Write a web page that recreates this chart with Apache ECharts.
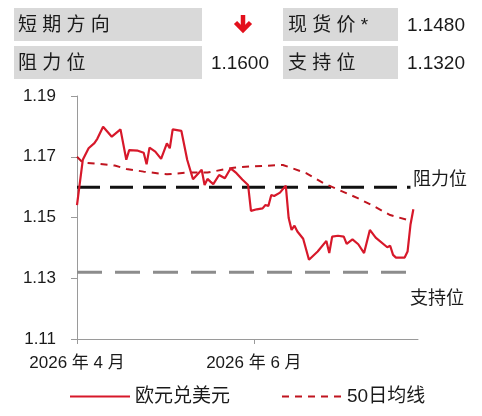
<!DOCTYPE html>
<html>
<head>
<meta charset="utf-8">
<script src="https://cdn.jsdelivr.net/npm/echarts@6/dist/echarts.min.js"></script>
<style>html,body{margin:0;padding:0;background:#fff}#c{width:482px;height:416px}</style>
</head>
<body>
<div id="c"></div>
<script>
// ---- data ----
const priceDates = ['2026-04-01','2026-04-03','2026-04-05','2026-04-07','2026-04-08','2026-04-10','2026-04-13','2026-04-16','2026-04-18','2026-04-19','2026-04-22','2026-04-24','2026-04-25','2026-04-26','2026-04-28','2026-04-30','2026-05-02','2026-05-03','2026-05-04','2026-05-07','2026-05-09','2026-05-11','2026-05-14','2026-05-15','2026-05-16','2026-05-17','2026-05-18','2026-05-20','2026-05-22','2026-05-24','2026-05-26','2026-05-28','2026-05-30','2026-05-31','2026-06-02','2026-06-04','2026-06-05','2026-06-06','2026-06-07','2026-06-08','2026-06-10','2026-06-12','2026-06-13','2026-06-14','2026-06-15','2026-06-16','2026-06-18','2026-06-20','2026-06-23','2026-06-26','2026-06-27','2026-06-28','2026-06-30','2026-07-02','2026-07-03','2026-07-05','2026-07-07','2026-07-09','2026-07-11','2026-07-13','2026-07-17','2026-07-18','2026-07-19','2026-07-20','2026-07-23','2026-07-24','2026-07-25','2026-07-26'];
const priceValues = [1.1541,1.1690,1.1728,1.1745,1.1759,1.1799,1.1766,1.1790,1.1690,1.1722,1.1720,1.1713,1.1675,1.1730,1.1717,1.1693,1.1744,1.1728,1.1790,1.1785,1.1690,1.1626,1.1657,1.1607,1.1627,1.1618,1.1610,1.1640,1.1629,1.1662,1.1646,1.1625,1.1607,1.1522,1.1527,1.1530,1.1541,1.1538,1.1574,1.1571,1.1582,1.1605,1.1498,1.1459,1.1473,1.1454,1.1430,1.1361,1.1388,1.1423,1.1383,1.1437,1.1440,1.1437,1.1413,1.1428,1.1412,1.1383,1.1459,1.1434,1.1402,1.1407,1.1377,1.1368,1.1368,1.1388,1.1476,1.1527];
const maDates = ['2026-04-01','2026-04-03','2026-04-09','2026-04-14','2026-04-18','2026-04-24','2026-05-02','2026-05-09','2026-05-16','2026-05-25','2026-05-31','2026-06-11','2026-06-19','2026-06-25','2026-07-07','2026-07-12','2026-07-18','2026-07-24'];
const maValues = [1.1700,1.1681,1.1676,1.1671,1.1660,1.1651,1.1642,1.1648,1.1648,1.1664,1.1668,1.1673,1.1646,1.1613,1.1563,1.1539,1.1508,1.1492];
const resistanceDates = ['2026-04-01','2026-07-25'];
const resistanceLevel = 1.16;
const supportDates = ['2026-04-01','2026-07-26'];
const supportLevel = 1.132;
const seriesNames = ['欧元兑美元','50日均线'];
const yTicks = {min:1.11, max:1.19, step:0.02};
const xTickDates = ['2026-04-01','2026-06-01'];
const xAxisStart = '2026-04-01';
const xAxisEnd = '2026-07-27';
const tableRows = [
  ['短 期 方 向','down','现 货 价 *','1.1480'],
  ['阻 力 位','1.1600','支 持 位','1.1320']
];
const levelLabels = ['阻力位','支持位'];

// ---- chart ----
const FONT = '"Liberation Sans","Noto Sans CJK SC",sans-serif';
const DAY = 86400000;
const t0 = Date.UTC(2026,3,1);
const dayOf = s => (Date.UTC(+s.slice(0,4), +s.slice(5,7)-1, +s.slice(8,10)) - t0) / DAY;
const pair = (ds, vs) => ds.map((d,i)=>[dayOf(d), Array.isArray(vs)?vs[i]:vs]);
const xTicks = xTickDates.map(dayOf);
const xMin = dayOf(xAxisStart);
const xMax = dayOf(xAxisEnd) + 0.6;

const chart = echarts.init(document.getElementById('c'), null, {renderer:'canvas'});
const graphics = [];
const rowY = [8, 46];
tableRows.forEach((r,i)=>{
  const y = rowY[i], h = 33, cy = y + h/2;
  graphics.push({type:'rect', shape:{x:14,y:y,width:188,height:h}, style:{fill:'#d9d9d9'}, silent:true});
  graphics.push({type:'rect', shape:{x:283,y:y,width:115,height:h}, style:{fill:'#d9d9d9'}, silent:true});
  graphics.push({type:'text', x:18, y:cy+1, style:{text:r[0], font:'19px '+FONT, fill:'#1a1a1a', textVerticalAlign:'middle'}});
  if (r[1]==='down') {
    graphics.push({type:'polyline', shape:{points:[[243,15],[243,30]]}, style:{stroke:'#e3101c', lineWidth:4.5, fill:null}});
    graphics.push({type:'polyline', shape:{points:[[235.5,22.5],[243,30],[250.5,22.5]]}, style:{stroke:'#e3101c', lineWidth:4.5, fill:null, lineJoin:'miter'}});
  } else {
    graphics.push({type:'text', x:269, y:cy+1, style:{text:r[1], font:'19px '+FONT, fill:'#1a1a1a', textAlign:'right', textVerticalAlign:'middle'}});
  }
  graphics.push({type:'text', x:288, y:cy+1, style:{text:r[2], font:'19px '+FONT, fill:'#1a1a1a', textVerticalAlign:'middle'}});
  graphics.push({type:'text', x:465, y:cy+1, style:{text:r[3], font:'19px '+FONT, fill:'#1a1a1a', textAlign:'right', textVerticalAlign:'middle'}});
});
graphics.push({type:'text', x:413, y:180, style:{text:levelLabels[0], font:'18px '+FONT, fill:'#1a1a1a', textVerticalAlign:'middle'}});
graphics.push({type:'text', x:410, y:299, style:{text:levelLabels[1], font:'18px '+FONT, fill:'#1a1a1a', textVerticalAlign:'middle'}});

chart.setOption({
  animation:false,
  backgroundColor:'#fff',
  grid:{left:77, right:64, top:96, bottom:77, containLabel:false},
  legend:{
    data:seriesNames, bottom:5, left:64, itemWidth:60, itemHeight:14, itemGap:51,
    itemStyle:{opacity:0},
    textStyle:{fontSize:19, fontFamily:FONT, color:'#1a1a1a'}
  },
  xAxis:{
    type:'value', min:xMin, max:xMax,
    axisLine:{lineStyle:{color:'#9a9a9a', width:1}},
    axisTick:{show:true, customValues:xTicks, length:5, lineStyle:{color:'#9a9a9a'}},
    axisLabel:{customValues:xTicks, fontSize:17, fontFamily:FONT, color:'#1a1a1a', margin:16,
      formatter:v=>{const d=new Date(t0 + v*DAY); return d.getUTCFullYear()+' 年 '+(d.getUTCMonth()+1)+' 月';}},
    splitLine:{show:false}
  },
  yAxis:{
    type:'value', min:yTicks.min, max:yTicks.max, interval:yTicks.step,
    axisLine:{show:true, lineStyle:{color:'#9a9a9a', width:1}},
    axisTick:{show:true, inside:false, length:6, lineStyle:{color:'#9a9a9a'}},
    axisLabel:{fontSize:17, fontFamily:FONT, color:'#1a1a1a', margin:21, formatter:v=>v.toFixed(2)},
    splitLine:{show:false}
  },
  series:[
    {name:'阻力位', type:'line', data:pair(resistanceDates, resistanceLevel), symbol:'none', silent:true,
      lineStyle:{color:'#111', width:3, type:[23,10]}, z:1},
    {name:'支持位', type:'line', data:pair(supportDates, supportLevel), symbol:'none', silent:true,
      lineStyle:{color:'#8c8c8c', width:3, type:[25,13]}, z:1},
    {name:seriesNames[1], type:'line', data:pair(maDates, maValues), symbol:'none',
      lineStyle:{color:'#c0141f', width:2, type:[7,6]}, itemStyle:{color:'#c0141f'}, z:2},
    {name:seriesNames[0], type:'line', data:pair(priceDates, priceValues), symbol:'none',
      lineStyle:{color:'#d7182a', width:2.2}, itemStyle:{color:'#d7182a'}, z:3}
  ],
  graphic:graphics
});
</script>
</body>
</html>
